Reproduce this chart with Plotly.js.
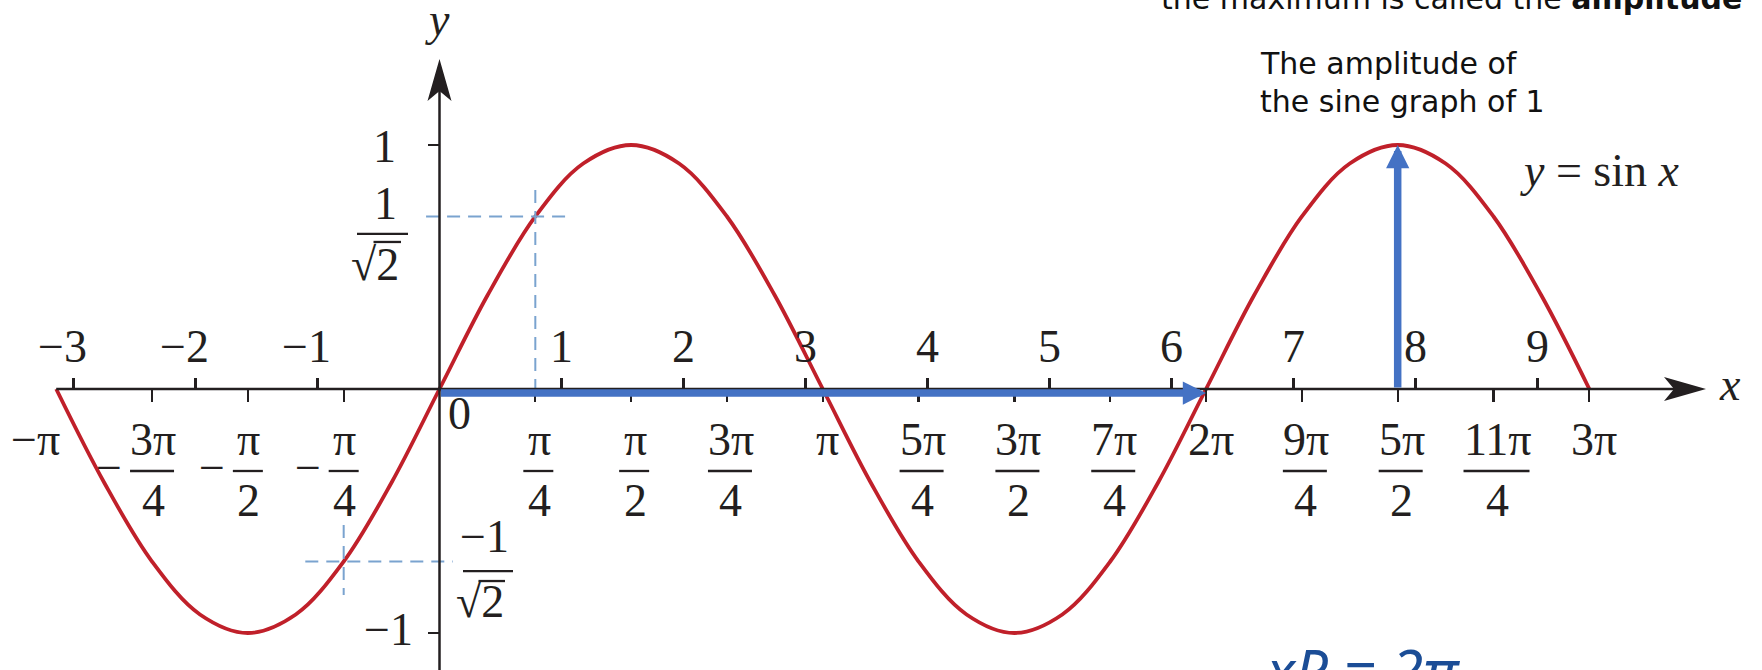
<!DOCTYPE html>
<html>
<head>
<meta charset="utf-8">
<script src="https://cdn.plot.ly/plotly-3.0.1.min.js"></script>
<style>
  html, body { margin: 0; padding: 0; background: #ffffff; }
  #chart { width: 1762px; height: 670px; }
</style>
</head>
<body>
<div id="chart"></div>
<script>
// ---- data -------------------------------------------------------------
// y = sin x, read every π/8 from −π to 3π
const curveX = [-3.1416, -2.7489, -2.3562, -1.9635, -1.5708, -1.1781, -0.7854, -0.3927,
                0, 0.3927, 0.7854, 1.1781, 1.5708, 1.9635, 2.3562, 2.7489,
                3.1416, 3.5343, 3.9270, 4.3197, 4.7124, 5.1051, 5.4978, 5.8905,
                6.2832, 6.6759, 7.0686, 7.4613, 7.8540, 8.2467, 8.6394, 9.0321, 9.4248];
const curveY = [0, -0.383, -0.707, -0.924, -1, -0.924, -0.707, -0.383,
                0, 0.383, 0.707, 0.924, 1, 0.924, 0.707, 0.383,
                0, -0.383, -0.707, -0.924, -1, -0.924, -0.707, -0.383,
                0, 0.383, 0.707, 0.924, 1, 0.924, 0.707, 0.383, 0];

// decimal scale above the x axis
const decTicks  = [-3, -2, -1, 1, 2, 3, 4, 5, 6, 7, 8, 9];
const decLabels = ['−3', '−2', '−1', '1', '2', '3', '4', '5', '6', '7', '8', '9'];

// multiples of π below the x axis (numerator / denominator)
const piTicks = [-3.1416, -2.3562, -1.5708, -0.7854, 0.7854, 1.5708, 2.3562, 3.1416,
                 3.9270, 4.7124, 5.4978, 6.2832, 7.0686, 7.8540, 8.6394, 9.4248];
const piNum = ['π', '3π', 'π', 'π', 'π', 'π', '3π', 'π', '5π', '3π', '7π', '2π', '9π', '5π', '11π', '3π'];
const piDen = ['', '4', '2', '4', '4', '2', '4', '', '4', '2', '4', '', '4', '2', '4', ''];

// y axis
const yTicks  = [-1, 1];
const yLabels = ['−1', '1'];

// dashed guides at (±π/4, ±1/√2)
const guideX      = [0.7854, -0.7854];
const guideY      = [0.7071, -0.7071];
const guideNum    = ['1', '−1'];
const guideHFrom  = [-0.11, -1.10];
const guideHTo    = [1.07, 0.11];
const guideVFrom  = [0.8156, -0.557];
const guideVTo    = [0, -0.844];

// one period and the amplitude
const periodStart = 0, periodEnd = 6.2832;
const ampX = 7.8540, ampValue = 1;

// ---- drawing ----------------------------------------------------------
const W = 1762, H = 670;
const X0 = 439.5, XU = 122;   // pixel of x = 0, pixels per unit
const Y0 = 389,   YU = 244;   // pixel of y = 0, pixels per unit
const xr = [-X0 / XU, (W - X0) / XU];
const yr = [(Y0 - H) / YU, Y0 / YU];
const pxToX = p => (p - X0) / XU;
const pxToY = p => (Y0 - p) / YU;

const INK = '#231f20', RED = '#c0202a', BLUE = '#4472c4', GUIDE = '#7aa3cf', PEN = '#1b4d96';
const SERIF = 'Liberation Serif, Times New Roman, serif';
const SANS = 'DejaVu Sans, sans-serif';
const FS = 46;

const annotations = [];
const shapes = [];

function lbl(x, y, text, xs, ys, extra) {
  annotations.push(Object.assign({
    x: x, y: y, xref: 'x', yref: 'y', text: text, showarrow: false,
    xanchor: 'center', yanchor: 'middle', xshift: xs, yshift: ys,
    font: { family: SERIF, size: FS, color: INK }
  }, extra || {}));
}
function pann(px, py, text, extra) {
  annotations.push(Object.assign({
    x: px / W, y: 1 - py / H, xref: 'paper', yref: 'paper', text: text, showarrow: false,
    xanchor: 'center', yanchor: 'middle',
    font: { family: SERIF, size: FS, color: INK }
  }, extra || {}));
}
function bar(xa, ya, x0, x1, yp) {
  shapes.push({
    type: 'line', xref: 'x', yref: 'y', xsizemode: 'pixel', ysizemode: 'pixel',
    xanchor: xa, yanchor: ya, x0: x0, x1: x1, y0: yp, y1: yp,
    line: { color: INK, width: 2.3 }
  });
}

// axis lines with arrow heads
shapes.push({ type: 'line', xref: 'x', yref: 'y', x0: piTicks[0], x1: pxToX(1695), y0: 0, y1: 0,
              line: { color: INK, width: 2.5 } });
shapes.push({ type: 'line', xref: 'x', yref: 'y', x0: 0, x1: 0, y0: yr[0], y1: pxToY(70),
              line: { color: INK, width: 2.5 } });
shapes.push({ type: 'path', xref: 'x', yref: 'y', xsizemode: 'pixel', ysizemode: 'pixel',
              xanchor: pxToX(1706), yanchor: 0, path: 'M0,0 L-42,-12 L-32,0 L-42,12 Z',
              fillcolor: INK, line: { width: 0 } });
shapes.push({ type: 'path', xref: 'x', yref: 'y', xsizemode: 'pixel', ysizemode: 'pixel',
              xanchor: 0, yanchor: pxToY(59), path: 'M0,0 L-12,-42 L0,-32 L12,-42 Z',
              fillcolor: INK, line: { width: 0 } });

// decimal labels
decTicks.forEach((v, i) => lbl(v, 0, decLabels[i], v < 0 ? -11 : 0, 43));

// π labels
piTicks.forEach((v, i) => {
  const neg = v < 0;
  const num = piNum[i], den = piDen[i];
  if (den === '') {
    if (neg) lbl(v, 0, '−' + num, 6, -50, { xanchor: 'right' });
    else lbl(v, 0, num, 5, -50);
    return;
  }
  const hw = num.length === 1 ? 15 : (num.length === 2 ? 22 : 33);
  const xs = neg ? 0 : 3;
  lbl(v, 0, num, xs + 1, -50);
  lbl(v, 0, den, xs + 1, -111);
  bar(v, 0, xs - hw, xs + hw, -82);
  if (neg) lbl(v, 0, '−', xs - hw - 21, -78);
});

// origin and y labels
lbl(0, 0, '0', 19.5, -24);
lbl(0, yTicks[1], yLabels[1], -55, -1);
lbl(0, yTicks[0], yLabels[0], -51, 3.5);

// 1/√2 and −1/√2
lbl(0, guideY[0], guideNum[0], -54.5, 12.5);
bar(0, guideY[0], -82.5, -31.5, -17.5);
lbl(0, guideY[0], '√2', -64.5, -48.5);
bar(0, guideY[0], -66, -38.5, -25.5);

lbl(0, guideY[1], guideNum[1], 44.5, 25.5);
bar(0, guideY[1], 23.5, 73.5, -9.5);
lbl(0, guideY[1], '√2', 40.5, -39.5);
bar(0, guideY[1], 39, 65.5, -19.5);

// axis names and curve label
pann(437, 19, '<i>y</i>');
pann(1730, 384, '<i>x</i>');
pann(1600, 170, '<i>y</i> = sin <i>x</i>');

// notes
const note = { family: SANS, size: 30, color: '#111111' };
pann(1159, -1, 'the maximum is called the <b>amplitude</b>', { xanchor: 'left', font: note });
pann(1258, 64, 'The amplitude of', { xanchor: 'left', font: note });
pann(1258, 101, 'the sine graph of 1', { xanchor: 'left', font: note });
pann(1262, 669, '<i>xP = 2π</i>', { xanchor: 'left', font: { family: 'Noto Sans, sans-serif', size: 58, color: PEN } });

// period and amplitude arrows
const arrow = { xref: 'x', yref: 'y', axref: 'x', ayref: 'y', text: '', showarrow: true,
                arrowhead: 2, arrowsize: 0.62, arrowwidth: 7.5, arrowcolor: BLUE };
annotations.push(Object.assign({}, arrow, { x: periodEnd, y: 0, ax: periodStart, ay: 0, yshift: -4 }));
annotations.push(Object.assign({}, arrow, { x: ampX, y: ampValue, ax: ampX, ay: 0 }));

// guide line trace
const gx = [], gy = [];
guideX.forEach((v, i) => {
  gx.push(guideHFrom[i], guideHTo[i], null, v, v, null);
  gy.push(guideY[i], guideY[i], null, guideVFrom[i], guideVTo[i], null);
});

const traces = [
  { x: gx, y: gy, xaxis: 'x2', yaxis: 'y', mode: 'lines', hoverinfo: 'skip',
    line: { color: GUIDE, width: 2, dash: '13px,8px' }, connectgaps: false },
  { x: curveX, y: curveY, xaxis: 'x', yaxis: 'y', mode: 'lines', hoverinfo: 'skip',
    line: { color: RED, width: 3.8, shape: 'spline', smoothing: 1 } }
];

const axisCommon = { showgrid: false, zeroline: false, showline: false, showticklabels: false,
                     tickcolor: INK, tickwidth: 2.3, fixedrange: true };

const layout = {
  width: W, height: H, autosize: false,
  margin: { l: 0, r: 0, t: 0, b: 0, pad: 0 },
  paper_bgcolor: '#ffffff', plot_bgcolor: '#ffffff',
  showlegend: false,
  xaxis: Object.assign({}, axisCommon, { range: xr, domain: [0, 1], anchor: 'free', position: (H - Y0) / H,
                                          ticks: 'inside', ticklen: 11, tickvals: decTicks }),
  xaxis2: Object.assign({}, axisCommon, { range: xr, overlaying: 'x', anchor: 'free', position: (H - Y0) / H,
                                           side: 'bottom', ticks: 'outside', ticklen: 12,
                                           tickvals: piTicks.filter(v => v > -3) }),
  yaxis: Object.assign({}, axisCommon, { range: yr, domain: [0, 1], anchor: 'free', position: X0 / W,
                                          ticks: 'outside', ticklen: 12, tickvals: yTicks }),
  shapes: shapes,
  annotations: annotations
};

Plotly.newPlot('chart', traces, layout, { displayModeBar: false, staticPlot: true });
</script>
</body>
</html>
